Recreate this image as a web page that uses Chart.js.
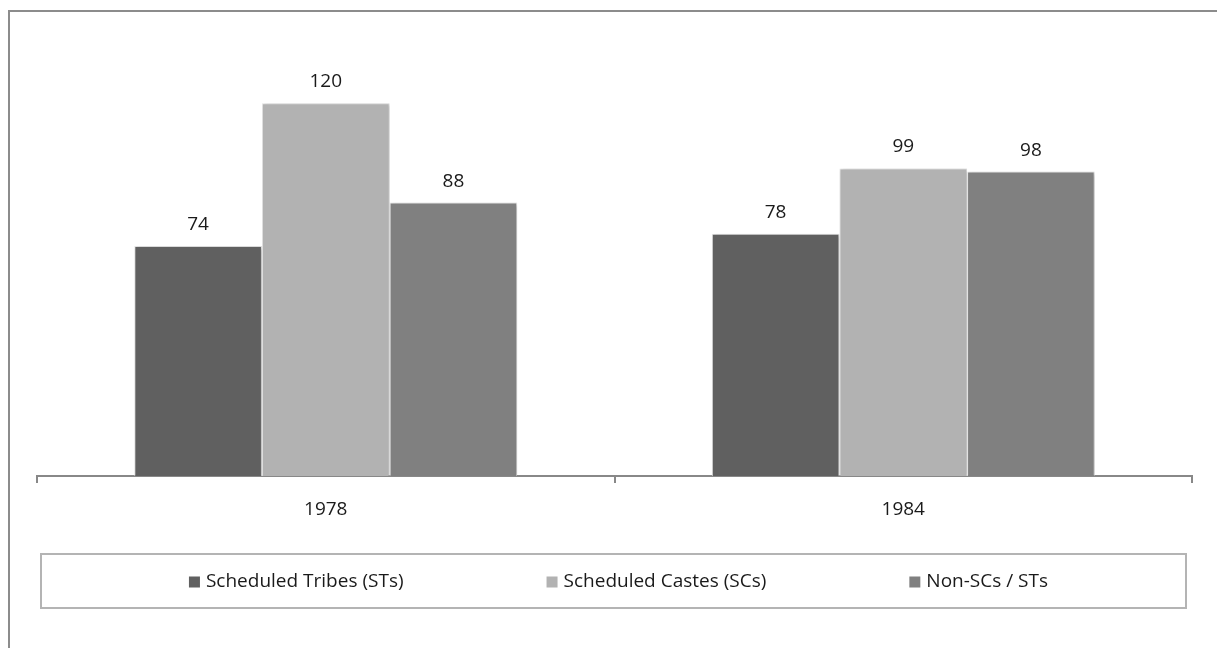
<!DOCTYPE html>
<html>
<head>
<meta charset="utf-8">
<script src="https://cdn.jsdelivr.net/npm/chart.js@4"></script>
<style>
  html, body { margin: 0; padding: 0; background: #fff; }
  #wrap { width: 1217px; height: 648px; position: relative; }
</style>
</head>
<body>
<div id="wrap"><canvas id="chart" width="1217" height="648"></canvas></div>
<script>
// Dữ liệu của biểu đồ
const years = ["1978", "1984"];
const seriesNames = ["Scheduled Tribes (STs)", "Scheduled Castes (SCs)", "Non-SCs / STs"];
const stValues = [74, 78];
const scValues = [120, 99];
const nonValues = [88, 98];
const seriesColors = ["#606060", "#b2b2b2", "#808080"];

const FONT = "'Open Sans', 'DejaVu Sans', sans-serif";

// Khung ngoài (viền trên và trái)
const framePlugin = {
  id: "frame",
  beforeDraw(chart) {
    const ctx = chart.ctx;
    ctx.save();
    ctx.strokeStyle = "#8c8c8c";
    ctx.lineWidth = 2;
    ctx.beginPath();
    ctx.moveTo(9, chart.height);
    ctx.lineTo(9, 11);
    ctx.lineTo(chart.width, 11);
    ctx.stroke();
    ctx.restore();
  }
};

// Bóng đổ nhẹ cho cột
const shadowPlugin = {
  id: "barShadow",
  beforeDatasetDraw(chart) {
    const ctx = chart.ctx;
    ctx.save();
    ctx.shadowColor = "rgba(0,0,0,0.22)";
    ctx.shadowBlur = 4;
    ctx.shadowOffsetX = 2;
    ctx.shadowOffsetY = 1;
  },
  afterDatasetDraw(chart) {
    chart.ctx.restore();
  }
};

// Nhãn giá trị phía trên mỗi cột
const valueLabels = {
  id: "valueLabels",
  afterDatasetsDraw(chart) {
    const ctx = chart.ctx;
    ctx.save();
    ctx.font = "19px " + FONT;
    ctx.fillStyle = "#1a1a1a";
    ctx.textAlign = "center";
    ctx.textBaseline = "alphabetic";
    chart.data.datasets.forEach((ds, i) => {
      chart.getDatasetMeta(i).data.forEach((bar, j) => {
        ctx.fillText(ds.data[j], bar.x, bar.y - 16);
      });
    });
    ctx.restore();
  }
};

// Chú thích có khung bao
const boxedLegend = {
  id: "boxedLegend",
  afterDraw(chart) {
    const ctx = chart.ctx;
    const area = chart.chartArea;
    const top = area.bottom + 78;
    const bottom = area.bottom + 132;
    const left = 41, right = 1186;
    ctx.save();
    ctx.strokeStyle = "#b4b4b4";
    ctx.lineWidth = 2;
    ctx.strokeRect(left, top, right - left, bottom - top);

    ctx.font = "19px " + FONT;
    const box = 11, boxGap = 6, itemGap = 143;
    const items = chart.data.datasets.map(ds => ({
      label: ds.label,
      color: ds.backgroundColor,
      w: box + boxGap + ctx.measureText(ds.label).width
    }));
    const total = items.reduce((s, it) => s + it.w, 0) + itemGap * (items.length - 1);
    let x = (left + right) / 2 + 5 - total / 2;
    const cy = (top + bottom) / 2;
    ctx.textBaseline = "middle";
    ctx.textAlign = "left";
    items.forEach(it => {
      ctx.fillStyle = it.color;
      ctx.fillRect(x, cy - box / 2 + 1, box, box);
      ctx.fillStyle = "#1a1a1a";
      ctx.fillText(it.label, x + box + boxGap, cy + 1);
      x += it.w + itemGap;
    });
    ctx.restore();
  }
};

const ctx = document.getElementById("chart").getContext("2d");
new Chart(ctx, {
  type: "bar",
  data: {
    labels: years,
    datasets: [
      { label: seriesNames[0], data: stValues, backgroundColor: seriesColors[0] },
      { label: seriesNames[1], data: scValues, backgroundColor: seriesColors[1] },
      { label: seriesNames[2], data: nonValues, backgroundColor: seriesColors[2] }
    ].map(ds => Object.assign(ds, {
      borderColor: "#e6e6e6",
      borderWidth: 1,
      categoryPercentage: 0.663,
      barPercentage: 1
    }))
  },
  options: {
    responsive: false,
    animation: false,
    layout: { padding: { left: 37, right: 25, top: 41, bottom: 132 } },
    plugins: {
      legend: { display: false },
      tooltip: { enabled: false }
    },
    scales: {
      x: {
        afterFit(scale) { scale.height = 40; },
        grid: {
          offset: true,
          drawOnChartArea: false,
          drawTicks: true,
          tickLength: 7,
          color: "#888",
          lineWidth: 2
        },
        border: { display: true, color: "#888", width: 2 },
        ticks: {
          color: "#1a1a1a",
          padding: 15,
          font: { family: FONT, size: 19 }
        }
      },
      y: {
        display: false,
        min: 0,
        max: 140
      }
    }
  },
  plugins: [framePlugin, shadowPlugin, valueLabels, boxedLegend]
});
</script>
</body>
</html>
